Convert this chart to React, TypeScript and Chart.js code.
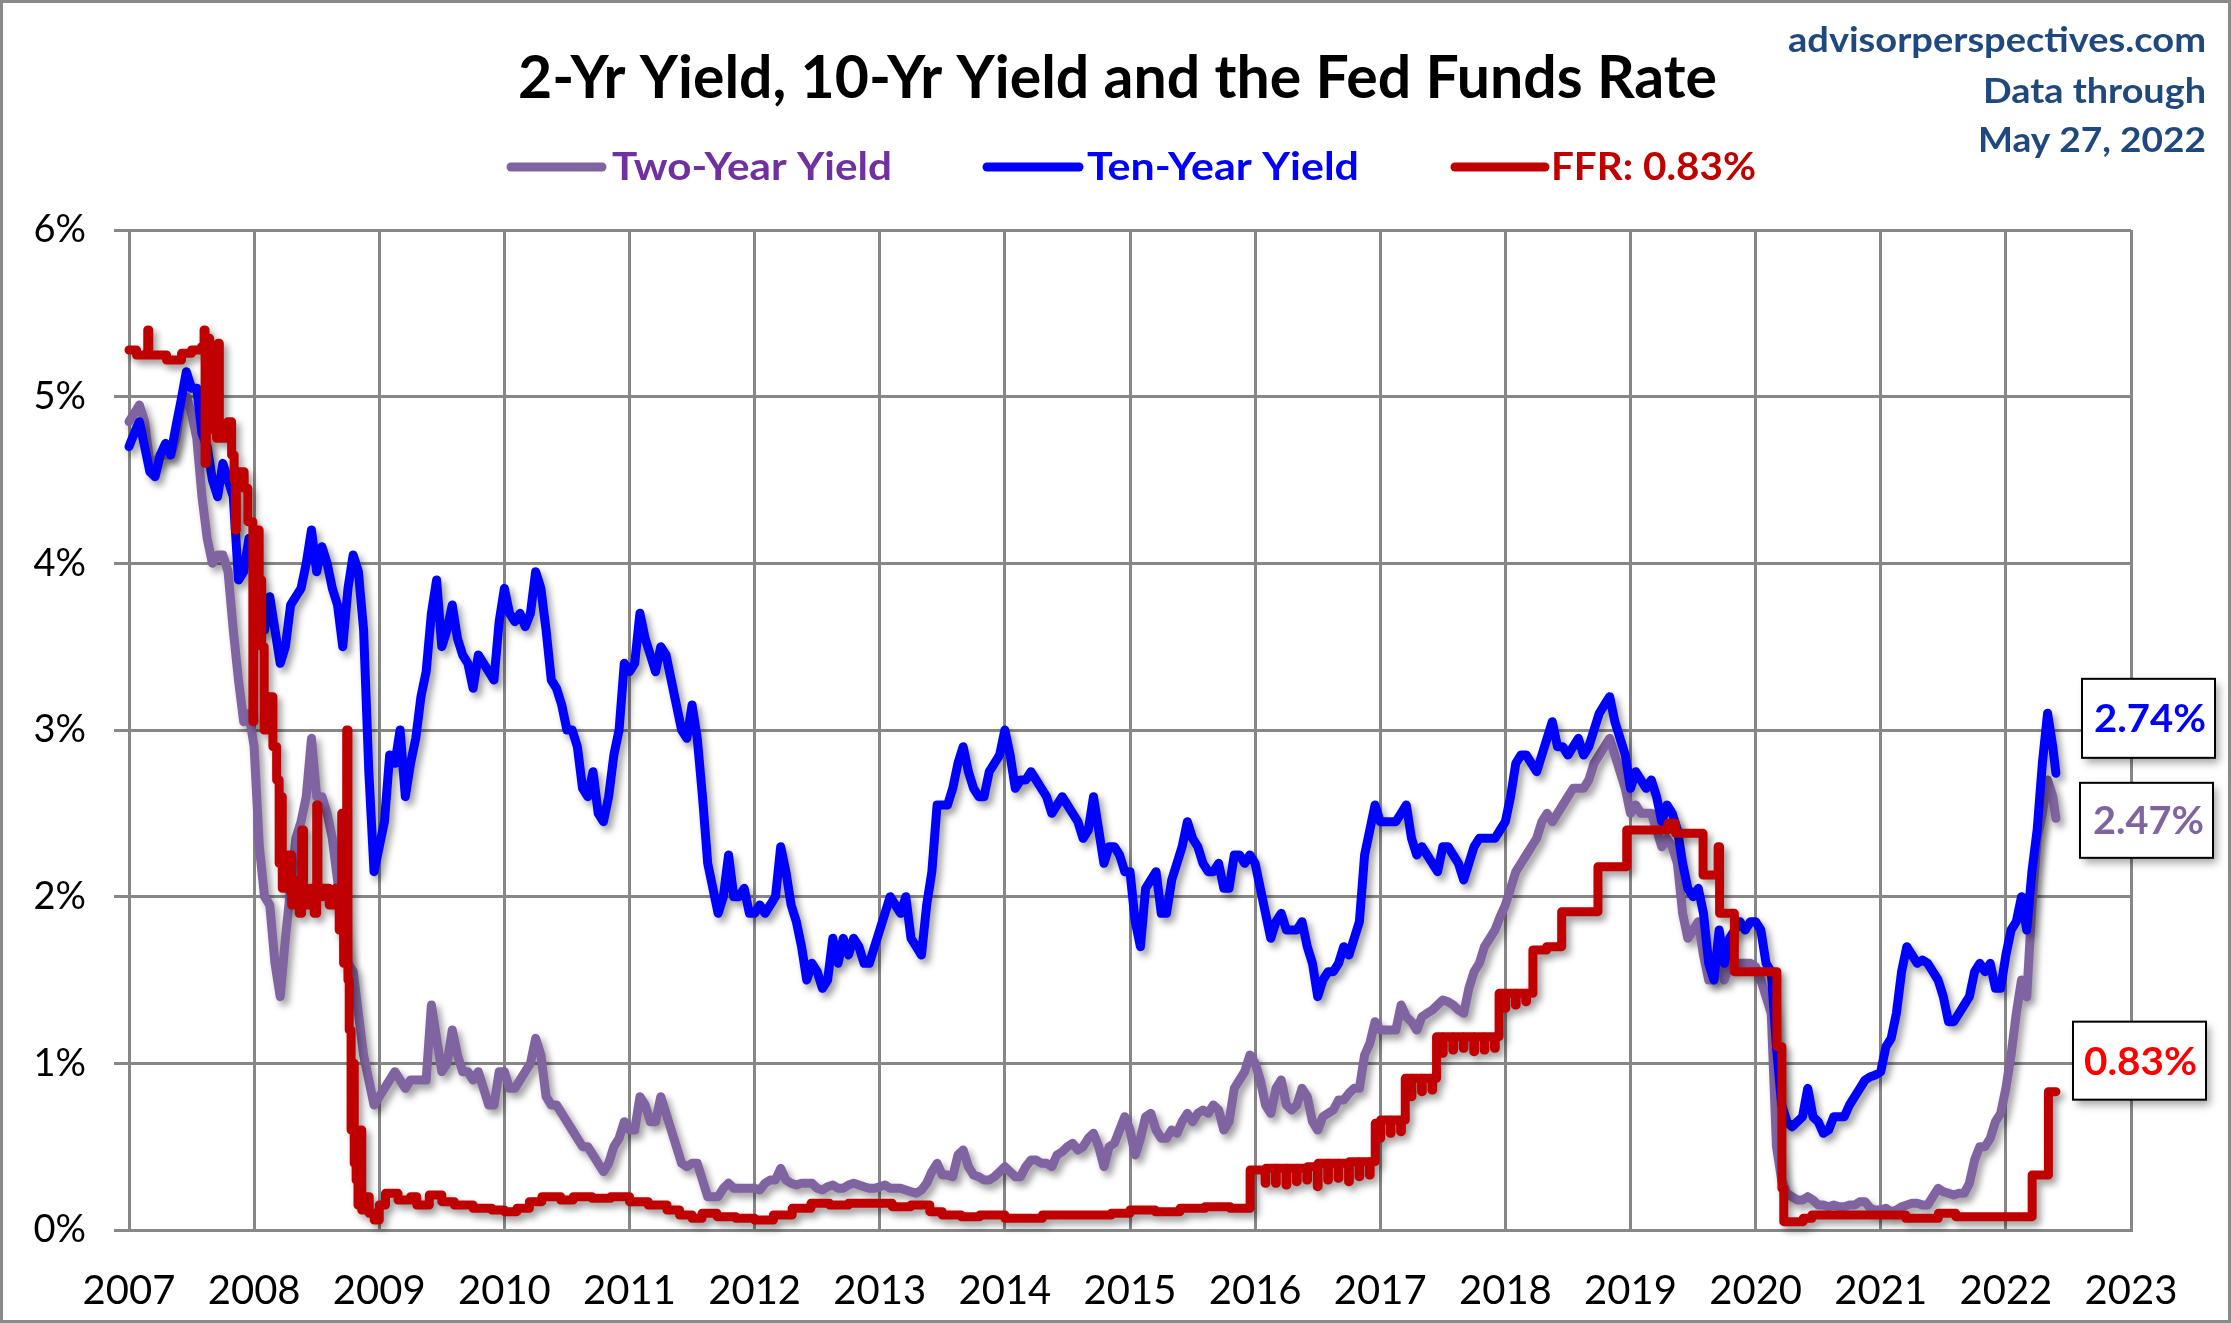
import React, { useEffect, useRef } from 'react';
import { Chart, registerables } from 'chart.js';

Chart.register(...registerables);

const W = 2231;
const H = 1323;

// ---------------- DATA ----------------
const YEAR_TICKS = [2007, 2008, 2009, 2010, 2011, 2012, 2013, 2014, 2015, 2016, 2017, 2018, 2019, 2020, 2021, 2022, 2023];
const Y_TICKS = [0, 1, 2, 3, 4, 5, 6];

const START_YEAR = 2007;
const POINTS_PER_YEAR = 24; // semi-monthly readings
const LAST_DATE = 2022.40; // May 27, 2022

const TEN_YR_LAST = 2.74;
const TWO_YR_LAST = 2.47;
const FFR_LAST = 0.83;

// Ten-year yield, semi-monthly from Jan 2007
const TEN_YR = [
  4.70, 4.78, 4.85, 4.70, 4.55, 4.52, 4.65, 4.72, 4.65, 4.82, 4.98, 5.15, 5.05, 5.05, 4.78, 4.70, 4.50, 4.40, 4.60, 4.50, 4.40, 3.90, 3.95, 4.15,
  4.00, 3.70, 3.60, 3.80, 3.60, 3.40, 3.50, 3.75, 3.80, 3.85, 4.00, 4.20, 3.95, 4.10, 4.00, 3.85, 3.75, 3.50, 3.85, 4.05, 3.95, 3.60, 2.75, 2.15,
  2.30, 2.45, 2.85, 2.80, 3.00, 2.60, 2.80, 2.95, 3.20, 3.35, 3.70, 3.90, 3.50, 3.60, 3.75, 3.55, 3.45, 3.40, 3.25, 3.45, 3.40, 3.35, 3.30, 3.65,
  3.85, 3.70, 3.65, 3.70, 3.62, 3.70, 3.95, 3.85, 3.60, 3.30, 3.25, 3.15, 3.00, 3.00, 2.90, 2.65, 2.60, 2.75, 2.50, 2.45, 2.60, 2.85, 3.00, 3.40,
  3.35, 3.40, 3.70, 3.55, 3.45, 3.35, 3.50, 3.45, 3.30, 3.15, 3.00, 2.95, 3.15, 2.95, 2.60, 2.20, 2.05, 1.90, 2.00, 2.25, 2.00, 2.00, 2.05, 1.90,
  1.90, 1.95, 1.90, 1.95, 2.00, 2.30, 2.15, 1.95, 1.85, 1.70, 1.50, 1.60, 1.55, 1.45, 1.50, 1.75, 1.60, 1.75, 1.65, 1.75, 1.70, 1.60, 1.60, 1.70,
  1.80, 1.90, 2.00, 1.95, 1.90, 2.00, 1.75, 1.70, 1.65, 1.95, 2.15, 2.55, 2.55, 2.55, 2.65, 2.80, 2.90, 2.75, 2.65, 2.60, 2.60, 2.75, 2.80, 2.85,
  3.00, 2.85, 2.65, 2.70, 2.70, 2.75, 2.70, 2.65, 2.60, 2.50, 2.55, 2.60, 2.55, 2.50, 2.45, 2.35, 2.40, 2.60, 2.40, 2.20, 2.30, 2.30, 2.25, 2.15,
  2.15, 1.85, 1.70, 2.05, 2.10, 2.15, 1.90, 1.90, 2.10, 2.20, 2.30, 2.45, 2.35, 2.30, 2.20, 2.15, 2.15, 2.20, 2.05, 2.05, 2.25, 2.25, 2.20, 2.25,
  2.20, 2.05, 1.90, 1.75, 1.85, 1.90, 1.80, 1.80, 1.80, 1.85, 1.70, 1.60, 1.40, 1.50, 1.55, 1.55, 1.60, 1.70, 1.65, 1.75, 1.85, 2.25, 2.40, 2.55,
  2.45, 2.45, 2.45, 2.45, 2.50, 2.55, 2.35, 2.25, 2.30, 2.25, 2.20, 2.15, 2.30, 2.30, 2.25, 2.20, 2.10, 2.20, 2.30, 2.35, 2.35, 2.35, 2.35, 2.40,
  2.45, 2.60, 2.80, 2.85, 2.85, 2.80, 2.75, 2.85, 2.95, 3.05, 2.90, 2.90, 2.85, 2.90, 2.95, 2.85, 2.90, 3.00, 3.10, 3.15, 3.20, 3.05, 2.95, 2.85,
  2.65, 2.75, 2.70, 2.65, 2.70, 2.60, 2.45, 2.55, 2.50, 2.40, 2.20, 2.05, 2.00, 2.05, 1.90, 1.60, 1.50, 1.80, 1.60, 1.75, 1.80, 1.85, 1.80, 1.85,
  1.85, 1.80, 1.60, 1.55, 1.10, 0.75, 0.65, 0.62, 0.65, 0.68, 0.85, 0.68, 0.65, 0.58, 0.60, 0.68, 0.68, 0.68, 0.75, 0.80, 0.85, 0.90, 0.92, 0.93,
  0.95, 1.10, 1.15, 1.30, 1.55, 1.70, 1.65, 1.60, 1.62, 1.60, 1.55, 1.50, 1.40, 1.25, 1.25, 1.30, 1.35, 1.40, 1.55, 1.60, 1.55, 1.60, 1.45, 1.45,
  1.65, 1.80, 1.85, 2.00, 1.80, 2.15, 2.40, 2.80, 3.10, 2.90,
];

// Two-year yield, semi-monthly from Jan 2007
const TWO_YR = [
  4.85, 4.90, 4.95, 4.85, 4.60, 4.60, 4.65, 4.65, 4.65, 4.75, 4.95, 5.00, 4.90, 4.75, 4.40, 4.15, 4.00, 4.05, 4.05, 3.95, 3.60, 3.30, 3.05, 3.10,
  2.90, 2.30, 2.00, 1.95, 1.60, 1.40, 1.75, 2.05, 2.35, 2.45, 2.60, 2.95, 2.60, 2.60, 2.50, 2.35, 2.10, 1.80, 1.60, 1.55, 1.30, 1.05, 0.90, 0.75,
  0.80, 0.85, 0.90, 0.95, 0.90, 0.85, 0.90, 0.90, 0.90, 0.90, 1.35, 1.15, 0.95, 1.00, 1.20, 1.05, 0.95, 0.95, 0.90, 0.95, 0.85, 0.75, 0.75, 0.95,
  0.95, 0.85, 0.85, 0.90, 0.95, 1.00, 1.15, 1.05, 0.80, 0.75, 0.75, 0.70, 0.65, 0.60, 0.55, 0.50, 0.50, 0.45, 0.40, 0.35, 0.40, 0.50, 0.55, 0.65,
  0.60, 0.60, 0.80, 0.75, 0.65, 0.65, 0.80, 0.70, 0.60, 0.50, 0.40, 0.38, 0.40, 0.40, 0.30, 0.20, 0.20, 0.20, 0.25, 0.28, 0.25, 0.25, 0.25, 0.25,
  0.25, 0.24, 0.28, 0.30, 0.30, 0.37, 0.30, 0.28, 0.27, 0.28, 0.28, 0.28, 0.25, 0.24, 0.26, 0.27, 0.25, 0.25, 0.27, 0.28, 0.27, 0.26, 0.25, 0.25,
  0.26, 0.27, 0.25, 0.25, 0.25, 0.24, 0.23, 0.22, 0.24, 0.28, 0.35, 0.40, 0.33, 0.33, 0.32, 0.45, 0.48, 0.38, 0.33, 0.32, 0.30, 0.30, 0.32, 0.35,
  0.38, 0.35, 0.32, 0.32, 0.38, 0.42, 0.42, 0.40, 0.40, 0.38, 0.45, 0.47, 0.50, 0.52, 0.48, 0.50, 0.55, 0.58, 0.50, 0.38, 0.50, 0.52, 0.60, 0.68,
  0.60, 0.45, 0.55, 0.68, 0.70, 0.60, 0.55, 0.55, 0.60, 0.58, 0.65, 0.70, 0.65, 0.70, 0.72, 0.70, 0.75, 0.72, 0.60, 0.65, 0.85, 0.90, 0.95, 1.05,
  1.00, 0.90, 0.75, 0.70, 0.85, 0.90, 0.75, 0.72, 0.75, 0.85, 0.80, 0.65, 0.60, 0.68, 0.70, 0.72, 0.78, 0.78, 0.82, 0.85, 0.85, 1.05, 1.12, 1.25,
  1.20, 1.20, 1.20, 1.20, 1.35, 1.28, 1.25, 1.20, 1.28, 1.30, 1.32, 1.35, 1.38, 1.37, 1.35, 1.32, 1.30, 1.45, 1.55, 1.60, 1.70, 1.75, 1.80, 1.88,
  1.95, 2.05, 2.15, 2.20, 2.25, 2.30, 2.35, 2.45, 2.50, 2.45, 2.50, 2.55, 2.60, 2.65, 2.65, 2.65, 2.70, 2.80, 2.85, 2.90, 2.95, 2.85, 2.75, 2.65,
  2.50, 2.55, 2.50, 2.50, 2.50, 2.40, 2.30, 2.35, 2.30, 2.20, 1.90, 1.75, 1.80, 1.85, 1.65, 1.50, 1.50, 1.70, 1.50, 1.60, 1.60, 1.60, 1.60, 1.60,
  1.58, 1.50, 1.40, 1.30, 0.50, 0.30, 0.22, 0.20, 0.18, 0.18, 0.20, 0.18, 0.15, 0.15, 0.14, 0.15, 0.14, 0.14, 0.15, 0.15, 0.17, 0.17, 0.13, 0.12,
  0.12, 0.13, 0.11, 0.12, 0.14, 0.15, 0.16, 0.16, 0.15, 0.15, 0.20, 0.25, 0.23, 0.22, 0.21, 0.22, 0.22, 0.28, 0.42, 0.50, 0.50, 0.55, 0.65, 0.70,
  0.85, 1.05, 1.30, 1.50, 1.40, 1.95, 2.35, 2.50, 2.70, 2.60,
];

// Effective Fed Funds Rate: change dates (decimal years) and levels
const FFR_DATES = [
  2007.000, 2007.060, 2007.150, 2007.158, 2007.300, 2007.420, 2007.500, 2007.580, 2007.600, 2007.608,
  2007.618, 2007.632, 2007.645, 2007.660, 2007.672, 2007.700, 2007.712, 2007.722, 2007.790, 2007.820,
  2007.840, 2007.850, 2007.858, 2007.920, 2007.950, 2007.990, 2007.998, 2008.040, 2008.060, 2008.080,
  2008.100, 2008.120, 2008.150, 2008.180, 2008.200, 2008.210, 2008.225, 2008.270, 2008.300, 2008.330,
  2008.360, 2008.380, 2008.395, 2008.450, 2008.480, 2008.500, 2008.510, 2008.550, 2008.600, 2008.650,
  2008.680, 2008.700, 2008.715, 2008.740, 2008.750, 2008.760, 2008.775, 2008.785, 2008.800, 2008.815,
  2008.830, 2008.850, 2008.860, 2008.880, 2008.920, 2008.960,
  2009.000, 2009.050, 2009.150, 2009.250, 2009.300, 2009.400, 2009.500, 2009.600, 2009.750, 2009.900,
  2010.000, 2010.100, 2010.200, 2010.300, 2010.450, 2010.550, 2010.700, 2010.850,
  2011.000, 2011.150, 2011.300, 2011.400, 2011.500, 2011.580, 2011.700, 2011.850,
  2012.000, 2012.150, 2012.300, 2012.450, 2012.600, 2012.750, 2012.900,
  2013.100, 2013.250, 2013.400, 2013.500, 2013.650, 2013.800,
  2014.000, 2014.150, 2014.300, 2014.500, 2014.700, 2014.850,
  2015.000, 2015.200, 2015.400, 2015.600, 2015.800, 2015.960,
  2016.080, 2016.086, 2016.163, 2016.169, 2016.247, 2016.253, 2016.330, 2016.336, 2016.413, 2016.419,
  2016.497, 2016.503, 2016.580, 2016.586, 2016.663, 2016.669, 2016.747, 2016.753, 2016.830, 2016.836,
  2016.913, 2016.919, 2016.960, 2016.997,
  2017.003, 2017.080, 2017.086, 2017.163, 2017.169, 2017.200, 2017.247, 2017.253, 2017.330, 2017.336,
  2017.413, 2017.419, 2017.450, 2017.497, 2017.503, 2017.580, 2017.586, 2017.663, 2017.669, 2017.747,
  2017.753, 2017.830, 2017.836, 2017.913, 2017.919, 2017.950, 2017.997,
  2018.003, 2018.080, 2018.086, 2018.163, 2018.169, 2018.220, 2018.330, 2018.450, 2018.740, 2018.970,
  2019.300, 2019.360, 2019.580, 2019.700, 2019.712, 2019.830,
  2020.170, 2020.210, 2020.225, 2020.300, 2020.380, 2020.450, 2020.700, 2020.950,
  2021.200, 2021.300, 2021.460, 2021.600, 2021.800,
  2022.000, 2022.210, 2022.340, 2022.400,
];
const FFR_VALUES = [
  5.28, 5.25, 5.40, 5.25, 5.22, 5.26, 5.28, 5.30, 5.40, 4.60,
  5.05, 5.35, 4.95, 5.30, 4.80, 4.75, 5.32, 4.75, 4.85, 4.65,
  4.50, 4.20, 4.55, 4.45, 4.25, 3.05, 4.20, 3.90, 3.50, 3.00,
  3.10, 3.20, 2.90, 2.70, 2.20, 2.60, 2.05, 2.25, 1.95, 2.10,
  1.90, 2.40, 1.95, 2.05, 1.90, 2.55, 2.00, 2.05, 1.95, 2.05,
  1.80, 2.50, 1.60, 3.00, 1.50, 1.20, 0.60, 1.00, 0.40, 0.30,
  0.15, 0.60, 0.12, 0.20, 0.10, 0.06,
  0.15, 0.22, 0.18, 0.20, 0.15, 0.21, 0.17, 0.15, 0.13, 0.12,
  0.11, 0.13, 0.17, 0.20, 0.18, 0.20, 0.19, 0.20,
  0.17, 0.15, 0.12, 0.09, 0.07, 0.10, 0.08, 0.07,
  0.06, 0.09, 0.13, 0.16, 0.15, 0.16, 0.16,
  0.14, 0.15, 0.11, 0.09, 0.08, 0.09,
  0.07, 0.07, 0.09, 0.09, 0.09, 0.10,
  0.12, 0.11, 0.13, 0.14, 0.13, 0.36,
  0.28, 0.37, 0.28, 0.37, 0.27, 0.37, 0.29, 0.37, 0.30, 0.38,
  0.26, 0.40, 0.30, 0.40, 0.31, 0.40, 0.29, 0.41, 0.32, 0.41,
  0.33, 0.41, 0.64, 0.55,
  0.66, 0.58, 0.66, 0.59, 0.66, 0.91, 0.80, 0.91, 0.83, 0.91,
  0.84, 0.91, 1.16, 1.06, 1.16, 1.08, 1.16, 1.09, 1.16, 1.07,
  1.16, 1.08, 1.16, 1.09, 1.16, 1.42, 1.33,
  1.42, 1.35, 1.42, 1.37, 1.42, 1.68, 1.70, 1.91, 2.18, 2.40,
  2.44, 2.38, 2.13, 2.30, 1.90, 1.55,
  1.10, 0.25, 0.05, 0.05, 0.07, 0.09, 0.09, 0.09,
  0.07, 0.07, 0.10, 0.08, 0.08,
  0.08, 0.33, 0.83, FFR_LAST,
];

// ---------------- STYLE ----------------
const PURPLE_LINE = '#8064A2';
const PURPLE_TEXT = '#7030A0';
const BLUE = '#0000FF';
const DARK_RED = '#C00000';
const BRIGHT_RED = '#FF0000';
const GRID = '#878787';
const NAVY = '#1F497D';
const FONT = 'Lato, "Open Sans", sans-serif';

function drawFitted(ctx: CanvasRenderingContext2D, text: string, x: number, baseline: number, size: number, color: string, width: number, align: 'left' | 'right' = 'left', bold = true) {
  ctx.save();
  ctx.font = `${bold ? 'bold ' : ''}${size}px ${FONT}`;
  ctx.fillStyle = color;
  ctx.textBaseline = 'alphabetic';
  ctx.textAlign = 'left';
  const w = ctx.measureText(text).width;
  const sx = width / w;
  const left = align === 'left' ? x : x - width;
  ctx.translate(left, baseline);
  ctx.scale(sx, 1);
  ctx.fillText(text, 0, 0);
  ctx.restore();
}

const shadowPlugin = {
  id: 'lineShadow',
  beforeDatasetDraw(chart: any) {
    const ctx = chart.ctx;
    ctx.save();
    ctx.shadowColor = 'rgba(0,0,0,0.38)';
    ctx.shadowBlur = 7;
    ctx.shadowOffsetX = 4;
    ctx.shadowOffsetY = 5;
  },
  afterDatasetDraw(chart: any) {
    chart.ctx.restore();
  },
};

const decorPlugin = {
  id: 'decor',
  afterDraw(chart: any) {
    const ctx: CanvasRenderingContext2D = chart.ctx;
    const y = chart.scales.y;

    // outer border
    ctx.save();
    ctx.strokeStyle = '#8a8a8a';
    ctx.lineWidth = 3;
    ctx.strokeRect(1.5, 1.5, W - 3, H - 3);
    ctx.restore();

    // title
    drawFitted(ctx, '2-Yr Yield, 10-Yr Yield and the Fed Funds Rate', 518, 98, 60, '#000000', 1199);

    // legend
    const legend = [
      { line: PURPLE_LINE, text: 'Two-Year Yield', color: PURPLE_TEXT, x0: 511, x1: 602, tx: 612, tw: 280 },
      { line: BLUE, text: 'Ten-Year Yield', color: BLUE, x0: 987, x1: 1079, tx: 1087, tw: 272 },
      { line: DARK_RED, text: 'FFR: ' + FFR_LAST.toFixed(2) + '%', color: DARK_RED, x0: 1455, x1: 1545, tx: 1551, tw: 205 },
    ];
    legend.forEach((l) => {
      ctx.save();
      ctx.strokeStyle = l.line;
      ctx.lineWidth = 9;
      ctx.lineCap = 'round';
      ctx.beginPath();
      ctx.moveTo(l.x0, 167);
      ctx.lineTo(l.x1, 167);
      ctx.stroke();
      ctx.restore();
      drawFitted(ctx, l.text, l.tx, 180, 39, l.color, l.tw);
    });

    // source / date text
    drawFitted(ctx, 'advisorperspectives.com', 2206, 52, 35, NAVY, 418, 'right');
    drawFitted(ctx, 'Data through', 2206, 103, 35, NAVY, 223, 'right');
    drawFitted(ctx, 'May 27, 2022', 2206, 152, 35, NAVY, 228, 'right');

    // value boxes
    const boxes = [
      { v: TEN_YR_LAST, color: BLUE, left: 2082, w: 133, h: 79, dy: -55, tx: 2094, tw: 112 },
      { v: TWO_YR_LAST, color: PURPLE_LINE, left: 2080, w: 133, h: 75, dy: 2, tx: 2093, tw: 111 },
      { v: FFR_LAST, color: BRIGHT_RED, left: 2073, w: 133, h: 78, dy: -31, tx: 2084, tw: 113 },
    ];
    boxes.forEach((b) => {
      const cy = y.getPixelForValue(b.v) + b.dy;
      const top = cy - b.h / 2;
      ctx.save();
      ctx.shadowColor = 'rgba(0,0,0,0.35)';
      ctx.shadowBlur = 8;
      ctx.shadowOffsetX = 4;
      ctx.shadowOffsetY = 5;
      ctx.fillStyle = '#ffffff';
      ctx.fillRect(b.left, top, b.w, b.h);
      ctx.restore();
      ctx.save();
      ctx.strokeStyle = '#000000';
      ctx.lineWidth = 2;
      ctx.strokeRect(b.left, top, b.w, b.h);
      ctx.restore();
      drawFitted(ctx, b.v.toFixed(2) + '%', b.tx, cy + 14, 38, b.color, b.tw);
    });
  },
};

export default function App() {
  const canvasRef = useRef<HTMLCanvasElement | null>(null);

  useEffect(() => {
    document.body.style.margin = '0';
    const canvas = canvasRef.current;
    if (!canvas) return;

    const tenPts = TEN_YR.map((v, i) => ({ x: START_YEAR + i / POINTS_PER_YEAR, y: v }));
    tenPts.push({ x: LAST_DATE, y: TEN_YR_LAST });
    const twoPts = TWO_YR.map((v, i) => ({ x: START_YEAR + i / POINTS_PER_YEAR, y: v }));
    twoPts.push({ x: LAST_DATE, y: TWO_YR_LAST });
    const ffrPts = FFR_DATES.map((d, i) => ({ x: d, y: FFR_VALUES[i] }));

    const common = {
      pointRadius: 0,
      borderWidth: 9,
      borderJoinStyle: 'round' as const,
      borderCapStyle: 'round' as const,
      tension: 0,
      fill: false,
      clip: false as any,
    };

    const chart = new Chart(canvas, {
      type: 'line',
      data: {
        datasets: [
          { ...common, label: 'Two-Year Yield', data: twoPts, borderColor: PURPLE_LINE, order: 3 },
          { ...common, label: 'Ten-Year Yield', data: tenPts, borderColor: BLUE, order: 2 },
          { ...common, label: 'FFR', data: ffrPts, borderColor: DARK_RED, stepped: true, order: 1 },
        ],
      },
      options: {
        responsive: false,
        animation: false,
        devicePixelRatio: 1,
        layout: { padding: { left: 0, right: 100, top: 230, bottom: 0 } },
        plugins: {
          legend: { display: false },
          title: { display: false },
          tooltip: { enabled: false },
        },
        scales: {
          x: {
            type: 'linear',
            min: YEAR_TICKS[0],
            max: YEAR_TICKS[YEAR_TICKS.length - 1],
            afterBuildTicks: (scale: any) => {
              scale.ticks = YEAR_TICKS.map((v) => ({ value: v }));
            },
            afterFit: (scale: any) => {
              scale.height = 93;
            },
            grid: { color: GRID, lineWidth: 3, drawTicks: false },
            border: { color: GRID, width: 3 },
            ticks: {
              color: '#000000',
              font: { family: FONT, size: 40 },
              padding: 37,
              maxRotation: 0,
              autoSkip: false,
              callback: (v: any) => String(v),
            },
          },
          y: {
            type: 'linear',
            min: Y_TICKS[0],
            max: Y_TICKS[Y_TICKS.length - 1],
            afterBuildTicks: (scale: any) => {
              scale.ticks = Y_TICKS.map((v) => ({ value: v }));
            },
            afterFit: (scale: any) => {
              scale.width = 129;
            },
            grid: { color: GRID, lineWidth: 3, drawTicks: true, tickLength: 15 },
            border: { color: GRID, width: 3 },
            ticks: {
              color: '#000000',
              font: { family: FONT, size: 38 },
              padding: 28,
              callback: (v: any) => v + '%',
            },
          },
        },
      },
      plugins: [shadowPlugin, decorPlugin],
    });

    return () => chart.destroy();
  }, []);

  return (
    <div style={{ width: W, height: H, background: '#ffffff' }}>
      <canvas ref={canvasRef} width={W} height={H} style={{ display: 'block', width: W, height: H }} />
    </div>
  );
}
